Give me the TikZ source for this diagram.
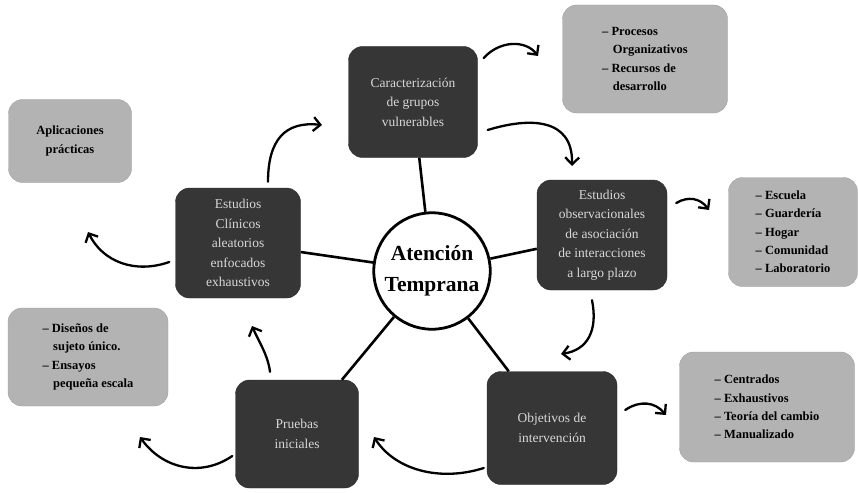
\documentclass[tikz,border=0pt]{standalone}
\usepackage{fontspec}
\setmainfont{Liberation Serif}
\usetikzlibrary{arrows.meta}
\definecolor{darkbox}{HTML}{363636}
\definecolor{graybox}{HTML}{B3B3B3}
\definecolor{lighttext}{HTML}{D8D8D8}
\tikzset{
  darkstyle/.style={rounded corners=14pt, fill=darkbox, draw=darkbox!80!black, text=lighttext,
    align=center, font=\fontsize{13.5}{19.5}\selectfont, inner sep=3pt},
  graystyle/.style={rounded corners=14pt, fill=graybox, draw=graybox!90!black, text=black,
    align=left, font=\bfseries\fontsize{12.5}{18.3}\selectfont, inner sep=3pt},
  spoke/.style={line width=2.6pt, black},
  arr/.style={line width=2.3pt, black, line cap=round, -{Straight Barb[length=7pt,width=14pt,line width=2.3pt]}},
}
\newcommand{\dsh}{--\ }
\newcommand{\ind}{\hspace*{0.85em}}
\begin{document}
\begin{tikzpicture}[x=1pt,y=-1pt]
\useasboundingbox (0,0) rectangle (858,492);
% center
\node[circle, draw=black, line width=2.8pt, fill=white, minimum size=114pt, align=center,
  font=\bfseries\fontsize{21.5}{31}\selectfont] (ctr) at (432,271) {Atención\\Temprana};
% dark boxes
\node[darkstyle, minimum width=129pt, minimum height=111pt] (c1) at (413,102) {Caracterización\\de grupos\\vulnerables};
\node[darkstyle, minimum width=130pt, minimum height=110pt] (c2) at (602,235) {Estudios\\observacionales\\de asociación\\de interacciones\\a largo plazo};
\node[darkstyle, minimum width=130pt, minimum height=113pt] (c3) at (552,428) {Objetivos de\\intervención};
\node[darkstyle, minimum width=123pt, minimum height=108pt] (c4) at (297,434) {Pruebas\\iniciales};
\node[darkstyle, minimum width=125pt, minimum height=110pt] (c5) at (238,243) {Estudios\\Clínicos\\aleatorios\\enfocados\\exhaustivos};
% gray boxes
\node[graystyle, minimum width=165pt, minimum height=108pt] (gA) at (645,59) {\dsh Procesos\\\ind Organizativos\\\dsh Recursos de\\\ind desarrollo};
\node[graystyle, minimum width=129pt, minimum height=109pt] (gB) at (793,232) {\dsh Escuela\\\dsh Guardería\\\dsh Hogar\\\dsh Comunidad\\\dsh Laboratorio};
\node[graystyle, minimum width=175pt, minimum height=110pt] (gC) at (767,407) {\dsh Centrados\\\dsh Exhaustivos\\\dsh Teoría del cambio\\\dsh Manualizado};
\node[graystyle, minimum width=160pt, minimum height=98pt] (gD) at (88,357) {\dsh Diseños de\\\ind sujeto único.\\\dsh Ensayos\\\ind pequeña escala};
\node[graystyle, align=center, minimum width=123pt, minimum height=83pt] (gE) at (70,141) {Aplicaciones\\prácticas};
% spokes
\draw[spoke] (ctr) -- (c1);
\draw[spoke] (ctr) -- (c2);
\draw[spoke] (ctr) -- (c3);
\draw[spoke] (ctr) -- (c4);
\draw[spoke] (ctr) -- (c5);
% curved arrows
\coordinate (e1) at (322,125);
\coordinate (e2) at (538,56);
\coordinate (e3) at (572,166);
\coordinate (e4) at (709,210);
\coordinate (e5) at (561,354);
\coordinate (e6) at (666,415);
\coordinate (e7) at (374,437);
\coordinate (e8) at (252,326);
\coordinate (e9) at (140,437);
\coordinate (e10) at (88,232);
\draw[arr] ([xshift=30pt,yshift=6pt]c5.north) .. controls (268,140) and (285,121) .. (e1);
\draw[arr] ([xshift=6pt,yshift=44pt]c1.east) .. controls (500,40) and (526,40) .. (e2);
\draw[arr] ([xshift=10pt,yshift=-28pt]c1.east) .. controls (530,117) and (573,118) .. (e3);
\draw[arr] ([xshift=9pt,yshift=32pt]c2.east) .. controls (688,196) and (700,198) .. (e4);
\draw[arr] ([xshift=-10pt,yshift=-10pt]c2.south) .. controls (598,330) and (588,350) .. (e5);
\draw[arr] ([xshift=8pt,yshift=18pt]c3.east) .. controls (640,400) and (655,402) .. (e6);
\draw[arr] ([xshift=-3pt,yshift=-40pt]c3.west) .. controls (440,482) and (395,470) .. (e7);
\draw[arr] ([xshift=-27pt,yshift=8pt]c4.north) .. controls (268,355) and (258,340) .. (e8);
\draw[arr] ([xshift=-3pt,yshift=-22pt]c4.west) .. controls (200,478) and (162,468) .. (e9);
\draw[arr] ([xshift=-6pt,yshift=-19pt]c5.west) .. controls (135,274) and (103,262) .. (e10);
\end{tikzpicture}
\end{document}
